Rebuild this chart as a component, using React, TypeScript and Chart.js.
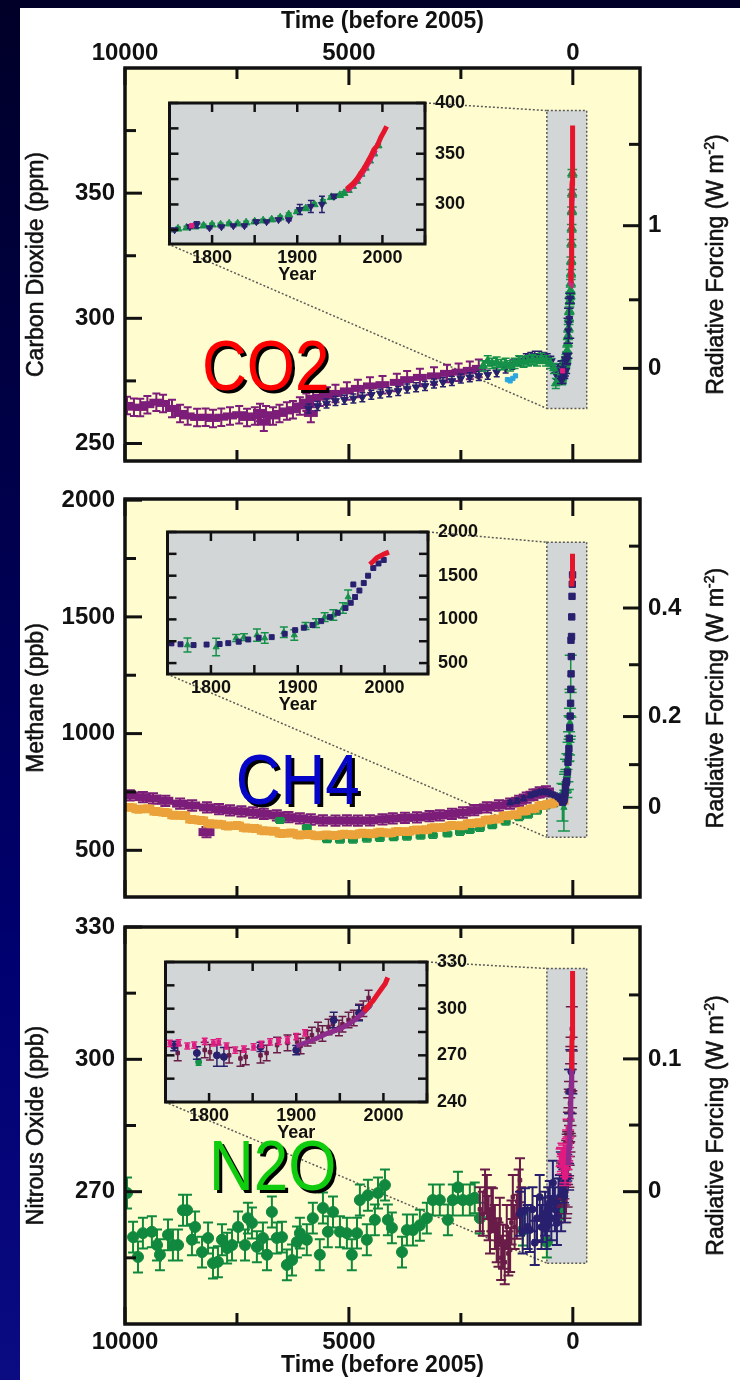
import React, { useEffect, useRef } from 'react';
import { Chart, registerables } from 'chart.js';

Chart.register(...registerables);

const FONT = "'Liberation Sans', Arial, Helvetica, sans-serif";
Chart.defaults.font.family = FONT;

// ================= axis ticks & labels =================
const referenceYear = 2005;
const timeTickValues = [0, 2500, 5000, 7500, 10000];
const timeTickLabels = [10000, 5000, 0];
const insetYearTicks = [1750, 1800, 1850, 1900, 1950, 2000, 2050];
const insetYearLabels = [1800, 1900, 2000];

const co2AxisTicks = [250, 275, 300, 325, 350, 375];
const co2AxisLabels = [250, 300, 350];
const co2ForcingTickPpm = [280, 307.4, 337, 369.5];
const co2ForcingTickLabels = ['0', '', '1', ''];
const co2InsetTicks = [275, 300, 325, 350, 375, 400];
const co2InsetLabels = [300, 350, 400];

const ch4AxisTicks = [500, 750, 1000, 1250, 1500, 1750, 2000];
const ch4AxisLabels = [500, 1000, 1500, 2000];
const ch4ForcingTickPpb = [684, 867, 1073, 1295, 1538, 1803];
const ch4ForcingTickLabels = ['0', '', '0.2', '', '0.4', ''];
const ch4InsetTicks = [500, 750, 1000, 1250, 1500, 1750, 2000];
const ch4InsetLabels = [500, 1000, 1500, 2000];

const n2oAxisTicks = [255, 270, 285, 300, 315, 330];
const n2oAxisLabels = [270, 300, 330];
const n2oForcingTickPpb = [270, 285.1, 300.1, 314.6];
const n2oForcingTickLabels = ['0', '', '0.1', ''];
const n2oInsetTicks = [240, 255, 270, 285, 300, 315, 330];
const n2oInsetLabels = [240, 270, 300, 330];

// ================= CO2 data =================
// main panel series (years before 2005)
const co2PurpleYears = [9955, 9800, 9660, 9500, 9300, 9150, 8950, 8770, 8600, 8390, 8200, 8035, 7850, 7655, 7450, 7275, 7100, 6985, 6850, 6695, 6550, 6385, 6250, 6095, 5950, 5800, 5650, 5490, 5300, 5045, 4800, 4530, 4250, 3930, 3700, 3415, 3100, 2810, 2550, 2300, 2100, 6900, 5850];
const co2PurplePpm = [265.2, 264.5, 264.4, 265.5, 266.5, 266, 264, 262, 261, 260.4, 260.5, 260, 260.5, 261, 261.5, 260.4, 261, 262.4, 261.5, 261, 262, 263, 263.5, 265, 266.5, 268, 268.5, 269, 270, 271, 272, 273, 273.5, 274.4, 275.5, 276.4, 277, 278, 278.5, 279.2, 280, 258.5, 262];
const co2NavyYears = [5900, 5700, 5500, 5300, 5100, 4900, 4700, 4500, 4300, 4100, 3900, 3700, 3500, 3300, 3100, 2900, 2700, 2500, 2300, 2100, 1900, 1700, 1500, 1350, 1200, 1050, 950, 850, 750, 650, 560, 480, 420, 370, 320, 280];
const co2NavyPpm = [264, 265, 266, 267, 267.5, 268, 268.5, 269.5, 270, 270.5, 271, 272, 272.5, 273, 274, 274.5, 275, 276, 276.5, 277, 277.5, 278.5, 280, 281.5, 283, 284, 284.5, 285, 285, 284.5, 284, 283, 280, 277.5, 279, 281];
const co2GreenYears = [2000, 1900, 1800, 1700, 1600, 1500, 1400, 1300, 1200, 1100, 1000, 900, 800, 700, 600, 500, 420, 380];
const co2GreenPpm = [281, 283, 282, 282.5, 281.5, 282, 281, 282, 283, 282.5, 283, 283.5, 283, 284, 283, 282, 280, 274];
const co2LightBlueYears = [1460, 1400, 1340, 1280];
const co2LightBluePpm = [275.5, 275, 276, 277];
// inset series (calendar years)
const co2LawNavyYears = [1756, 1774, 1782, 1797, 1811, 1825, 1838, 1852, 1864, 1878, 1890, 1903, 1916, 1929, 1943];
const co2LawNavyPpm = [275, 278, 280, 277, 278, 279, 279, 283, 283, 285, 285, 295, 298, 300, 308];
const co2LawNavyErr = [1, 1.5, 3, 1, 1, 1, 1, 1.5, 1, 1, 1, 5, 6, 8, 2];
const co2LawGreenYears = [1750, 1760, 1770, 1780, 1790, 1800, 1810, 1820, 1830, 1840, 1850, 1860, 1870, 1880, 1890, 1900, 1910, 1920, 1930, 1940, 1950, 1955, 1960, 1965, 1970, 1975, 1980, 1985, 1990, 1995];
const co2LawGreenPpm = [275, 276, 277, 278, 279, 280, 280, 281, 281, 282, 283, 284, 285, 287, 290, 293, 296, 300, 303, 307, 309, 311, 314, 318, 323, 330, 336, 343, 350, 358];
const co2PinkDotYears = [1776];
const co2PinkDotPpm = [279];
const co2PinkYears = [1958, 1963, 1968, 1973, 1978, 1983, 1988, 1992];
const co2PinkPpm = [313, 317, 321, 327, 333, 340, 348, 354];
const co2RedYears = [1958, 1962, 1966, 1970, 1974, 1978, 1982, 1986, 1990, 1994, 1998, 2002, 2005];
const co2RedPpm = [315, 318, 321, 325, 330, 335, 341, 347, 354, 358, 366, 372, 377];

// ================= CH4 data =================
const ch4PurpleYears = [9890, 9600, 9375, 9100, 8770, 8500, 8170, 7900, 7655, 7400, 7140, 6900, 6610, 6350, 6095, 5850, 5580, 5300, 5045, 4800, 4530, 4250, 4020, 3750, 3480, 3200, 2970, 2700, 2455, 2200, 1920, 1650, 1400, 1200, 1030, 880, 740, 600, 8180];
const ch4PurplePpb = [735, 728, 722, 712, 700, 692, 684, 676, 671, 667, 662, 656, 650, 642, 637, 632, 628, 627, 628, 627, 628, 633, 637, 639, 641, 646, 650, 656, 662, 672, 684, 692, 700, 712, 726, 738, 748, 752, 578];
const ch4OrangeYears = [9890, 9700, 9500, 9300, 9100, 8900, 8700, 8500, 8300, 8100, 7900, 7700, 7500, 7300, 7100, 6900, 6700, 6500, 6300, 6100, 5900, 5700, 5500, 5300, 5100, 4900, 4700, 4500, 4300, 4100, 3900, 3700, 3500, 3300, 3100, 2900, 2700, 2500, 2300, 2100, 1900, 1700, 1500, 1300, 1100, 900, 700, 520, 360, 250];
const ch4OrangePpb = [684, 676, 678, 666, 662, 650, 649, 632, 628, 614, 612, 604, 606, 596, 593, 584, 582, 572, 574, 566, 568, 562, 566, 563, 569, 567, 573, 571, 577, 574, 581, 580, 587, 588, 597, 598, 606, 605, 615, 618, 630, 634, 648, 652, 668, 678, 692, 698, 708, 712];
const ch4GreenYears = [6540, 5940, 5700, 5490, 5200, 4910, 4600, 4310, 4000, 3705, 3400, 3125, 2800, 2520, 2300, 2075, 1800, 1500, 1200, 1000, 800, 600, 420, 320];
const ch4GreenPpb = [628, 598, 560, 545, 543, 543, 548, 551, 554, 556, 560, 564, 570, 577, 585, 594, 605, 620, 640, 650, 668, 690, 700, 705];
const ch4NavyYears = [1400, 1250, 1100, 950, 850, 750, 650, 560, 480, 400, 330, 280];
const ch4NavyPpb = [705, 712, 722, 735, 742, 748, 750, 748, 740, 735, 728, 720];
const ch4LawNavyYears = [1754, 1765, 1780, 1795, 1810, 1820, 1832, 1843, 1855, 1870, 1885, 1897, 1907, 1917, 1927, 1937, 1946, 1955, 1961, 1964, 1966, 1971, 1976, 1981, 1987, 1993, 1999];
const ch4LawNavyPpb = [728, 715, 706, 712, 718, 728, 745, 770, 790, 797, 835, 877, 905, 935, 980, 1026, 1075, 1130, 1190, 1400, 1256, 1330, 1416, 1500, 1588, 1640, 1680];
const ch4InsetGreenYears = [1773, 1806, 1829, 1838, 1853, 1862, 1884, 1896, 1909, 1921, 1931, 1941, 1952, 1958];
const ch4InsetGreenPpb = [706, 683, 786, 797, 820, 786, 854, 820, 923, 958, 1026, 1049, 1130, 1256];
const ch4InsetGreenErr = [80, 100, 40, 40, 70, 60, 60, 60, 40, 50, 50, 60, 60, 80];
const ch4InsetPurpleYears = [1755];
const ch4InsetPurplePpb = [722];
const ch4RedYears = [1983, 1987, 1991, 1995, 2000, 2005];
const ch4RedPpb = [1630, 1665, 1705, 1725, 1750, 1770];

// ================= N2O data =================
const n2oGreenYears = [9955, 9820, 9710, 9600, 9400, 9285, 9220, 9040, 8930, 8815, 8705, 8615, 8505, 8435, 8280, 8145, 8035, 7925, 7835, 7720, 7610, 7475, 7320, 7255, 7165, 7055, 6920, 6830, 6720, 6610, 6495, 6385, 6270, 6160, 6095, 5940, 5805, 5650, 5580, 5470, 5355, 5200, 5045, 4935, 4820, 4755, 4600, 4575, 4420, 4350, 4195, 4130, 4040, 3815, 3705, 3570, 3415, 3260, 3125, 2970, 2790, 2680, 2565, 2455, 2300, 2190, 2075, 1115, 580];
const n2oGreenPpb = [269.7, 259.7, 255.2, 260.6, 260.9, 257.9, 255.7, 260.2, 257.9, 257.9, 265.8, 265.8, 259.1, 262, 256.3, 259.5, 253.8, 254.1, 259.1, 257.2, 257.9, 262, 257.9, 264, 262.9, 257.5, 259.5, 255.7, 265.4, 259.5, 259.7, 253.4, 254.5, 258.6, 260.6, 259.1, 264, 255.7, 266.3, 260.9, 265.4, 260.9, 260.6, 255.7, 260.6, 268.1, 259.1, 269.2, 263.6, 269.7, 271.5, 263.6, 261.8, 256.3, 261.3, 261.3, 262.4, 264, 268.1, 268.1, 263.6, 268.1, 271, 268.1, 268.1, 268.6, 264, 261.3, 258.6];
const n2oMaroonYears = [2075, 2010, 1960, 1920, 1880, 1850, 1820, 1785, 1740, 1700, 1660, 1630, 1600, 1560, 1520, 1475, 1440, 1400, 1370, 1340, 1300, 1250, 1210, 1180, 1150];
const n2oMaroonPpb = [266, 265, 270, 268.8, 264, 261, 266, 265.8, 262, 259, 258, 263.6, 255, 257.5, 254, 262, 256, 256.8, 263, 268.8, 262, 264.3, 270, 272.6, 266];
const n2oNavyYears = [1180, 1120, 1070, 1010, 960, 900, 850, 800, 740, 700, 670, 620, 580, 550, 515, 480, 445, 400, 355, 320, 290, 260];
const n2oNavyPpb = [265, 261, 265.8, 262, 261.3, 266, 258.4, 264, 268.8, 262, 263.6, 265, 262, 266, 267.4, 264, 272, 266, 262.9, 268, 268.8, 266];
const n2oPinkYears = [1755, 1765, 1775, 1783, 1795, 1805, 1811, 1820, 1830, 1840, 1851, 1860, 1870, 1880, 1890, 1900, 1910];
const n2oPinkPpb = [277.7, 278, 276, 276.6, 279, 278, 278.6, 276, 273.4, 274, 275.4, 277, 278.6, 279, 280, 282, 284.4];
const n2oInsetMaroonYears = [1764, 1795, 1801, 1823, 1836, 1842, 1859, 1866, 1878, 1890, 1901, 1905, 1913, 1918, 1925, 1930, 1937, 1942, 1949, 1953, 1960, 1966, 1972, 1977, 1983];
const n2oInsetMaroonPpb = [271.5, 273.4, 272, 270, 268, 269, 270, 271.5, 276.6, 278, 278.6, 276, 281, 283, 286.3, 284, 288.2, 290, 287.6, 290, 292.7, 294, 297.9, 300, 306.9];
const n2oInsetNavyYears = [1760, 1786, 1809, 1817, 1859, 1900, 1943, 1972];
const n2oInsetNavyPpb = [276, 271.5, 270, 269, 275.4, 273.4, 292.7, 297.2];
const n2oInsetNavyErr = [3, 4, 7, 6, 3, 3, 5, 5];
const n2oInsetGreenYears = [1788];
const n2oInsetGreenPpb = [265.7];
const n2oPurpleYears = [1900, 1920, 1935, 1950, 1960, 1970, 1978, 1985];
const n2oPurplePpb = [276, 280, 284, 287, 290, 294, 298, 302];
const n2oRedYears = [1978, 1983, 1988, 1993, 1998, 2002, 2005];
const n2oRedPpb = [298, 302, 305, 309, 313, 316, 320];

// ================= styling / layout =================
const INK = '#111111';
const PLOT_BG = '#FFFCCF';
const INSET_BG = '#D3D6D6';
const COL = {
  red: '#E5152B', pink: '#E01C80', navy: '#28206F', green: '#16914A', purple: '#7C1D79',
  orange: '#EBA23A', lightBlue: '#2AA6DE', maroon: '#6A1C49', purpleN2O: '#8E2B8C', greenN2O: '#10893E',
};
const X_MIN = -1500, X_MAX = 10000;
const AREA_LEFT = 125, AREA_RIGHT = 640, PAGE_W = 740;
const INSET_PAD_L = 4, INSET_PAD_T = 24, INSET_AXIS_H = 46, INSET_AXIS_W = 56;
const SIDE_TITLE_SIZE = 23;

const toMain = (years: number[]) => years.map((y) => referenceYear - y);
const pts = (xs: number[], ys: number[]) => xs.map((x, i) => ({ x, y: ys[i] }));

function markers(data: any[], color: string, style: string, radius: number, o: any = {}) {
  return {
    type: 'scatter', data, showLine: false,
    pointStyle: style, pointRadius: radius, pointHoverRadius: radius,
    pointBackgroundColor: color, pointBorderColor: color,
    pointBorderWidth: o.bw ?? 1, pointRotation: o.rot ?? 0,
    backgroundColor: color, borderColor: color,
    errors: o.errors, errorSize: o.err, errorCap: o.cap ?? 3, errorWidth: o.ew ?? 1.5,
    order: o.order ?? 5,
  };
}
function curve(data: any[], color: string, width: number, order: number) {
  return { type: 'scatter', data, showLine: true, borderColor: color, backgroundColor: color, borderWidth: width, pointRadius: 0, order, tension: 0 };
}

// ================= plugins =================
const areaFill = (color: string) => ({
  id: 'areaFill',
  beforeDraw(chart: any) {
    const { ctx, chartArea: a } = chart;
    ctx.save();
    ctx.fillStyle = color;
    ctx.fillRect(a.left, a.top, a.right - a.left, a.bottom - a.top);
    ctx.restore();
  },
});

const errorBars = {
  id: 'errorBars',
  beforeDatasetDraw(chart: any, args: any) {
    const ds: any = chart.data.datasets[args.index];
    if (ds.errors == null && ds.errorSize == null) return;
    const meta = args.meta;
    const ys = chart.scales[meta.yAxisID];
    const a = chart.chartArea;
    const ctx = chart.ctx;
    ctx.save();
    ctx.beginPath();
    ctx.rect(a.left, a.top, a.right - a.left, a.bottom - a.top);
    ctx.clip();
    ctx.strokeStyle = ds.borderColor;
    ctx.lineWidth = ds.errorWidth;
    const cap = ds.errorCap;
    ctx.beginPath();
    meta.data.forEach((el: any, i: number) => {
      const d = ds.data[i];
      const e = ds.errors ? ds.errors[i] : ds.errorSize;
      const x = el.x;
      const y1 = ys.getPixelForValue(d.y + e);
      const y2 = ys.getPixelForValue(d.y - e);
      ctx.moveTo(x, y1); ctx.lineTo(x, y2);
      ctx.moveTo(x - cap, y1); ctx.lineTo(x + cap, y1);
      ctx.moveTo(x - cap, y2); ctx.lineTo(x + cap, y2);
    });
    ctx.stroke();
    ctx.restore();
  },
};

const frame = (cfg: any) => ({
  id: 'frame',
  afterDatasetsDraw(chart: any) {
    const { ctx, chartArea: a } = chart;
    ctx.save();
    ctx.strokeStyle = INK;
    ctx.lineCap = 'butt';
    ctx.lineWidth = cfg.tickWidth;
    cfg.sets.forEach((set: any) => {
      const s = chart.scales[set.scale];
      s.ticks.forEach((tk: any) => {
        const p = s.getPixelForValue(tk.value);
        const len = set.majors.includes(tk.value) ? cfg.majorLen : cfg.minorLen;
        set.sides.forEach((side: string) => {
          ctx.beginPath();
          if (side === 'top') { ctx.moveTo(p, a.top); ctx.lineTo(p, a.top + len); }
          if (side === 'bottom') { ctx.moveTo(p, a.bottom); ctx.lineTo(p, a.bottom - len); }
          if (side === 'left') { ctx.moveTo(a.left, p); ctx.lineTo(a.left + len, p); }
          if (side === 'right') { ctx.moveTo(a.right, p); ctx.lineTo(a.right - len, p); }
          ctx.stroke();
        });
      });
    });
    ctx.lineWidth = cfg.frameWidth;
    ctx.strokeRect(a.left, a.top, a.right - a.left, a.bottom - a.top);
    ctx.restore();
  },
});

const zoomBox = (cfg: any) => ({
  id: 'zoomBox',
  beforeDatasetsDraw(chart: any) {
    const { ctx } = chart;
    const xs = chart.scales.x, ys = chart.scales.y;
    const bx0 = xs.getPixelForValue(cfg.box.x0), bx1 = xs.getPixelForValue(cfg.box.x1);
    const by0 = ys.getPixelForValue(cfg.box.y1), by1 = ys.getPixelForValue(cfg.box.y0);
    ctx.save();
    ctx.fillStyle = INSET_BG;
    ctx.fillRect(bx0, by0, bx1 - bx0, by1 - by0);
    ctx.setLineDash([2, 2]);
    ctx.strokeStyle = '#5a5a5a';
    ctx.lineWidth = 1.5;
    ctx.strokeRect(bx0, by0, bx1 - bx0, by1 - by0);
    const off = cfg.canvasTop;
    ctx.beginPath();
    ctx.moveTo(cfg.inset.right, cfg.inset.top - off); ctx.lineTo(bx0, by0);
    ctx.moveTo(cfg.inset.left, cfg.inset.bottom - off); ctx.lineTo(bx0, by1);
    ctx.stroke();
    ctx.restore();
  },
});

const bigLabel = (cfg: any) => ({
  id: 'bigLabel',
  afterDatasetsDraw(chart: any) {
    const { ctx } = chart;
    const x = chart.scales.x.getPixelForValue(cfg.x);
    const y = chart.scales.y.getPixelForValue(cfg.y);
    ctx.save();
    ctx.translate(x, y);
    ctx.scale(1, 1.13);
    ctx.font = `62px ${FONT}`;
    ctx.textAlign = 'center';
    ctx.textBaseline = 'alphabetic';
    const base = 62 * 0.36;
    ctx.fillStyle = '#000';
    ctx.fillText(cfg.text, 3, base + 2.6);
    ctx.fillStyle = cfg.color;
    ctx.fillText(cfg.text, 0, base);
    ctx.restore();
  },
});

// rotated side titles (left: quantity, right: forcing with superscript)
function drawRotated(ctx: any, x: number, cy: number, parts: { text: string; sup?: boolean }[]) {
  const size = SIDE_TITLE_SIZE, sup = 14;
  ctx.save();
  ctx.translate(x, cy);
  ctx.rotate(-Math.PI / 2);
  ctx.fillStyle = INK;
  ctx.strokeStyle = INK;
  ctx.lineWidth = 0.6;
  ctx.lineJoin = 'round';
  ctx.textBaseline = 'alphabetic';
  const widths = parts.map((p) => {
    ctx.font = `${p.sup ? sup : size}px ${FONT}`;
    return ctx.measureText(p.text).width;
  });
  let x0 = -widths.reduce((s, w) => s + w, 0) / 2;
  const base = size * 0.36;
  parts.forEach((p, i) => {
    ctx.font = `${p.sup ? sup : size}px ${FONT}`;
    const yy = p.sup ? base - size * 0.42 : base;
    ctx.fillText(p.text, x0, yy);
    ctx.strokeText(p.text, x0, yy);
    x0 += widths[i];
  });
  ctx.restore();
}

const sideTitles = (cfg: any) => ({
  id: 'sideTitles',
  afterDraw(chart: any) {
    const { ctx, chartArea: a } = chart;
    const cy = (a.top + a.bottom) / 2;
    drawRotated(ctx, cfg.leftX, cy, [{ text: cfg.left }]);
    drawRotated(ctx, cfg.rightX, cy, [{ text: 'Radiative Forcing (W m' }, { text: '-2', sup: true }, { text: ')' }]);
  },
});

// ================= chart builders =================
const tickFont = { size: 24, weight: 'bold' as const, family: FONT };
const insetFont = { size: 18, weight: 'bold' as const, family: FONT };

function buildMain(canvas: HTMLCanvasElement, p: any) {
  const topH = p.areaTop - p.canvasTop;
  const bottomH = p.canvasTop + p.canvasH - p.areaBottom;
  const timeCb = (v: any) => (timeTickLabels.includes(v) ? String(v) : '');
  const rfMajors = p.rfPos.filter((_: any, i: number) => p.rfLabels[i] !== '');
  return new Chart(canvas, {
    type: 'scatter',
    data: { datasets: p.datasets },
    options: {
      responsive: false, animation: false, events: [],
      layout: { padding: 0 },
      plugins: { legend: { display: false }, tooltip: { enabled: false } },
      scales: {
        x: {
          type: 'linear', position: 'bottom', reverse: true, min: X_MIN, max: X_MAX,
          afterBuildTicks: (s: any) => { s.ticks = timeTickValues.map((v) => ({ value: v })); },
          afterFit: (s: any) => { s.height = bottomH; },
          grid: { display: false, drawTicks: false }, border: { display: false },
          ticks: { display: p.bottomLabels, autoSkip: false, maxRotation: 0, padding: 4, color: INK, font: tickFont, callback: timeCb },
          title: { display: p.bottomLabels, text: 'Time (before 2005)', color: INK, font: { size: 23, weight: 'bold', family: FONT }, padding: { top: 0, bottom: 1 } },
        },
        x2: {
          type: 'linear', position: 'top', reverse: true, min: X_MIN, max: X_MAX,
          afterBuildTicks: (s: any) => { s.ticks = timeTickValues.map((v) => ({ value: v })); },
          afterFit: (s: any) => { s.height = topH; },
          grid: { display: false, drawTicks: false }, border: { display: false },
          ticks: { display: p.topLabels, autoSkip: false, maxRotation: 0, padding: 0, color: INK, font: tickFont, callback: timeCb },
          title: { display: p.topLabels, text: 'Time (before 2005)', color: INK, font: { size: 23, weight: 'bold', family: FONT }, padding: { top: 8, bottom: 0 } },
        },
        y: {
          type: 'linear', position: 'left', min: p.yMin, max: p.yMax,
          afterBuildTicks: (s: any) => { s.ticks = p.yTicks.map((v: number) => ({ value: v })); },
          afterFit: (s: any) => { s.width = AREA_LEFT; },
          grid: { display: false, drawTicks: false }, border: { display: false },
          ticks: { autoSkip: false, padding: 10, color: INK, font: tickFont, callback: (v: any) => (p.yLabels.includes(v) ? String(v) : '') },
        },
        y2: {
          type: 'linear', position: 'right', min: p.yMin, max: p.yMax,
          afterBuildTicks: (s: any) => { s.ticks = p.rfPos.map((v: number) => ({ value: v })); },
          afterFit: (s: any) => { s.width = PAGE_W - AREA_RIGHT; },
          grid: { display: false, drawTicks: false }, border: { display: false },
          ticks: { autoSkip: false, padding: 8, color: INK, font: tickFont, callback: (_v: any, i: number) => p.rfLabels[i] ?? '' },
        },
      },
    } as any,
    plugins: [
      areaFill(PLOT_BG),
      zoomBox({ box: p.box, inset: p.inset, canvasTop: p.canvasTop }),
      errorBars,
      bigLabel(p.label),
      frame({
        tickWidth: 3, frameWidth: 3.5, majorLen: 17, minorLen: 11,
        sets: [
          { scale: 'x', sides: ['top', 'bottom'], majors: timeTickLabels },
          { scale: 'y', sides: ['left'], majors: p.yLabels },
          { scale: 'y2', sides: ['right'], majors: rfMajors },
        ],
      }),
      sideTitles({ left: p.yTitle, leftX: 35, rightX: 715 }),
    ] as any,
  });
}

function buildInset(canvas: HTMLCanvasElement, q: any) {
  return new Chart(canvas, {
    type: 'scatter',
    data: { datasets: q.datasets },
    options: {
      responsive: false, animation: false, events: [],
      layout: { padding: { left: INSET_PAD_L, top: INSET_PAD_T, right: 0, bottom: 0 } },
      plugins: { legend: { display: false }, tooltip: { enabled: false } },
      scales: {
        x: {
          type: 'linear', position: 'bottom', min: 1750, max: 2050,
          afterBuildTicks: (s: any) => { s.ticks = insetYearTicks.map((v) => ({ value: v })); },
          afterFit: (s: any) => { s.height = INSET_AXIS_H; },
          grid: { display: false, drawTicks: false }, border: { display: false },
          ticks: { autoSkip: false, maxRotation: 0, padding: 3, color: INK, font: insetFont, callback: (v: any) => (insetYearLabels.includes(v) ? String(v) : '') },
          title: { display: true, text: 'Year', color: INK, font: insetFont, padding: { top: 0, bottom: 4 } },
        },
        y: {
          type: 'linear', position: 'right', min: q.yMin, max: q.yMax,
          afterBuildTicks: (s: any) => { s.ticks = q.yTicks.map((v: number) => ({ value: v })); },
          afterFit: (s: any) => { s.width = INSET_AXIS_W; },
          grid: { display: false, drawTicks: false }, border: { display: false },
          ticks: { autoSkip: false, padding: 10, color: INK, font: insetFont, callback: (v: any) => (q.yLabels.includes(v) ? String(v) : '') },
        },
      },
    } as any,
    plugins: [
      areaFill(INSET_BG),
      errorBars,
      frame({
        tickWidth: 2.5, frameWidth: 3, majorLen: 9, minorLen: 9,
        sets: [
          { scale: 'x', sides: ['top', 'bottom'], majors: insetYearLabels },
          { scale: 'y', sides: ['left', 'right'], majors: q.yLabels },
        ],
      }),
    ] as any,
  });
}

// ================= panel definitions =================
const insetRects = [
  { left: 168, top: 103, right: 425, bottom: 244 },
  { left: 167, top: 532, right: 428, bottom: 674 },
  { left: 165, top: 962, right: 427, bottom: 1102 },
];

function co2Datasets(main: boolean) {
  const X = (ys: number[]) => (main ? toMain(ys) : ys);
  const k = main ? 1.6 : 1;
  const list: any[] = [
    curve(pts(X(co2RedYears), co2RedPpm), COL.red, 5, 0),
    curve(pts(X(co2PinkYears), co2PinkPpm), COL.pink, 5, 1),
    markers(pts(X(co2PinkDotYears), co2PinkDotPpm), COL.pink, 'rect', 3, { order: 2 }),
    markers(pts(X(co2LawNavyYears), co2LawNavyPpm), COL.navy, 'triangle', 4, { rot: 180, errors: co2LawNavyErr, cap: 3 * k, order: 3 }),
    markers(pts(X(co2LawGreenYears), co2LawGreenPpm), COL.green, 'triangle', main ? 5.5 : 4.5, { err: 1.5, cap: 3 * k, order: 4 }),
  ];
  if (main) {
    list.push(
      markers(pts(co2GreenYears, co2GreenPpm), COL.green, 'triangle', 5, { err: 2, cap: 4, order: 5 }),
      markers(pts(co2LightBlueYears, co2LightBluePpm), COL.lightBlue, 'rect', 3, { order: 6 }),
      markers(pts(co2NavyYears, co2NavyPpm), COL.navy, 'triangle', 4.5, { rot: 180, err: 1.8, cap: 3, order: 7 }),
      markers(pts(co2PurpleYears, co2PurplePpm), COL.purple, 'line', 7, { bw: 7, err: 3.5, cap: 4, ew: 2, order: 8 }),
    );
  }
  return list;
}

function ch4Datasets(main: boolean) {
  const X = (ys: number[]) => (main ? toMain(ys) : ys);
  const list: any[] = [
    curve(pts(X(ch4RedYears), ch4RedPpb), COL.red, 5, 0),
    markers(pts(X(ch4LawNavyYears), ch4LawNavyPpb), COL.navy, 'rect', main ? 4.5 : 3.5, { order: 1 }),
    markers(pts(X(ch4InsetGreenYears), ch4InsetGreenPpb), COL.green, 'triangle', 3.5, { errors: ch4InsetGreenErr, cap: main ? 6 : 4, order: 2 }),
    markers(pts(X(ch4InsetPurpleYears), ch4InsetPurplePpb), COL.purple, 'rect', 3, { order: 3 }),
  ];
  if (main) {
    list.push(
      markers(pts(ch4NavyYears, ch4NavyPpb), COL.navy, 'triangle', 4, { err: 10, cap: 3, order: 4 }),
      markers(pts(ch4OrangeYears, ch4OrangePpb), COL.orange, 'line', 7, { bw: 8, err: 16, cap: 4, order: 5 }),
      markers(pts(ch4GreenYears, ch4GreenPpb), COL.green, 'line', 5, { bw: 5, err: 12, cap: 4, order: 6 }),
      markers(pts(ch4PurpleYears, ch4PurplePpb), COL.purple, 'line', 8, { bw: 8, err: 22, cap: 5, ew: 2, order: 7 }),
    );
  }
  return list;
}

function n2oDatasets(main: boolean) {
  const X = (ys: number[]) => (main ? toMain(ys) : ys);
  const list: any[] = [
    curve(pts(X(n2oRedYears), n2oRedPpb), COL.red, 5, 0),
    curve(pts(X(n2oPurpleYears), n2oPurplePpb), COL.purpleN2O, 5, 1),
    markers(pts(X(n2oPinkYears), n2oPinkPpb), COL.pink, 'rect', main ? 3.5 : 2.5, { err: 2, cap: main ? 6 : 3, order: 2 }),
    markers(pts(X(n2oInsetNavyYears), n2oInsetNavyPpb), COL.navy, 'circle', 3.5, { errors: n2oInsetNavyErr, cap: main ? 6 : 4, order: 3 }),
    markers(pts(X(n2oInsetMaroonYears), n2oInsetMaroonPpb), COL.maroon, 'rect', 2.5, { err: 5, cap: main ? 6 : 4, order: 4 }),
    markers(pts(X(n2oInsetGreenYears), n2oInsetGreenPpb), COL.green, 'circle', 3, { err: 2, cap: 3, order: 5 }),
  ];
  if (main) {
    list.push(
      markers(pts(n2oNavyYears, n2oNavyPpb), COL.navy, 'circle', 3.5, { err: 5, cap: 5, ew: 2, order: 6 }),
      markers(pts(n2oMaroonYears, n2oMaroonPpb), COL.maroon, 'rect', 2.5, { err: 5, cap: 5, ew: 2, order: 7 }),
      markers(pts(n2oGreenYears, n2oGreenPpb), COL.greenN2O, 'circle', 5.5, { err: 3.5, cap: 5, ew: 2, order: 8 }),
    );
  }
  return list;
}

const panels = [
  {
    canvasTop: 0, canvasH: 500, areaTop: 68, areaBottom: 461, topLabels: true, bottomLabels: false,
    yMin: 243, yMax: 400, yTicks: co2AxisTicks, yLabels: co2AxisLabels, yTitle: 'Carbon Dioxide (ppm)',
    rfPos: co2ForcingTickPpm, rfLabels: co2ForcingTickLabels,
    box: { x0: 580, x1: -310, y0: 264, y1: 383 }, inset: insetRects[0],
    label: { text: 'CO2', x: 6856, y: 281.3, color: '#FF0000' },
    datasets: () => co2Datasets(true),
  },
  {
    canvasTop: 465, canvasH: 470, areaTop: 499, areaBottom: 897, topLabels: false, bottomLabels: false,
    yMin: 300, yMax: 2005, yTicks: ch4AxisTicks, yLabels: ch4AxisLabels, yTitle: 'Methane (ppb)',
    rfPos: ch4ForcingTickPpb, rfLabels: ch4ForcingTickLabels,
    box: { x0: 580, x1: -310, y0: 556, y1: 1820 }, inset: insetRects[1],
    label: { text: 'CH4', x: 6141, y: 805, color: '#0606C8' },
    datasets: () => ch4Datasets(true),
  },
  {
    canvasTop: 890, canvasH: 490, areaTop: 927, areaBottom: 1324, topLabels: false, bottomLabels: true,
    yMin: 240, yMax: 330, yTicks: n2oAxisTicks, yLabels: n2oAxisLabels, yTitle: 'Nitrous Oxide (ppb)',
    rfPos: n2oForcingTickPpb, rfLabels: n2oForcingTickLabels,
    box: { x0: 580, x1: -310, y0: 253.8, y1: 320.6 }, inset: insetRects[2],
    label: { text: 'N2O', x: 6700, y: 276, color: '#0FCC0F' },
    datasets: () => n2oDatasets(true),
  },
];

const insets = [
  { rect: insetRects[0], yMin: 261, yMax: 400, yTicks: co2InsetTicks, yLabels: co2InsetLabels, datasets: () => co2Datasets(false) },
  { rect: insetRects[1], yMin: 375, yMax: 2000, yTicks: ch4InsetTicks, yLabels: ch4InsetLabels, datasets: () => ch4Datasets(false) },
  { rect: insetRects[2], yMin: 240, yMax: 330, yTicks: n2oInsetTicks, yLabels: n2oInsetLabels, datasets: () => n2oDatasets(false) },
];

export default function App() {
  const mainRefs = useRef<(HTMLCanvasElement | null)[]>([]);
  const insetRefs = useRef<(HTMLCanvasElement | null)[]>([]);

  useEffect(() => {
    const charts: Chart[] = [];
    panels.forEach((p, i) => {
      const c = mainRefs.current[i];
      if (c) charts.push(buildMain(c, { ...p, datasets: p.datasets() }));
    });
    insets.forEach((q, i) => {
      const c = insetRefs.current[i];
      if (c) charts.push(buildInset(c, { ...q, datasets: q.datasets() }));
    });
    return () => charts.forEach((ch) => ch.destroy());
  }, []);

  return (
    <div style={{ position: 'absolute', left: 0, top: 0, width: 740, height: 1380, overflow: 'hidden', background: 'linear-gradient(180deg, #000028 0%, #00004A 35%, #000070 70%, #0B0B82 100%)' }}>
      <div style={{ position: 'absolute', left: 20, top: 8, right: 0, bottom: 0, background: '#FFFFFF' }} />
      {panels.map((p, i) => (
        <canvas
          key={'m' + i}
          ref={(el) => { mainRefs.current[i] = el; }}
          width={PAGE_W}
          height={p.canvasH}
          style={{ position: 'absolute', left: 0, top: p.canvasTop, width: PAGE_W, height: p.canvasH, display: 'block' }}
        />
      ))}
      {insets.map((q, i) => {
        const w = INSET_PAD_L + (q.rect.right - q.rect.left) + INSET_AXIS_W;
        const h = INSET_PAD_T + (q.rect.bottom - q.rect.top) + INSET_AXIS_H;
        return (
          <canvas
            key={'i' + i}
            ref={(el) => { insetRefs.current[i] = el; }}
            width={w}
            height={h}
            style={{ position: 'absolute', left: q.rect.left - INSET_PAD_L, top: q.rect.top - INSET_PAD_T, width: w, height: h, display: 'block' }}
          />
        );
      })}
    </div>
  );
}
